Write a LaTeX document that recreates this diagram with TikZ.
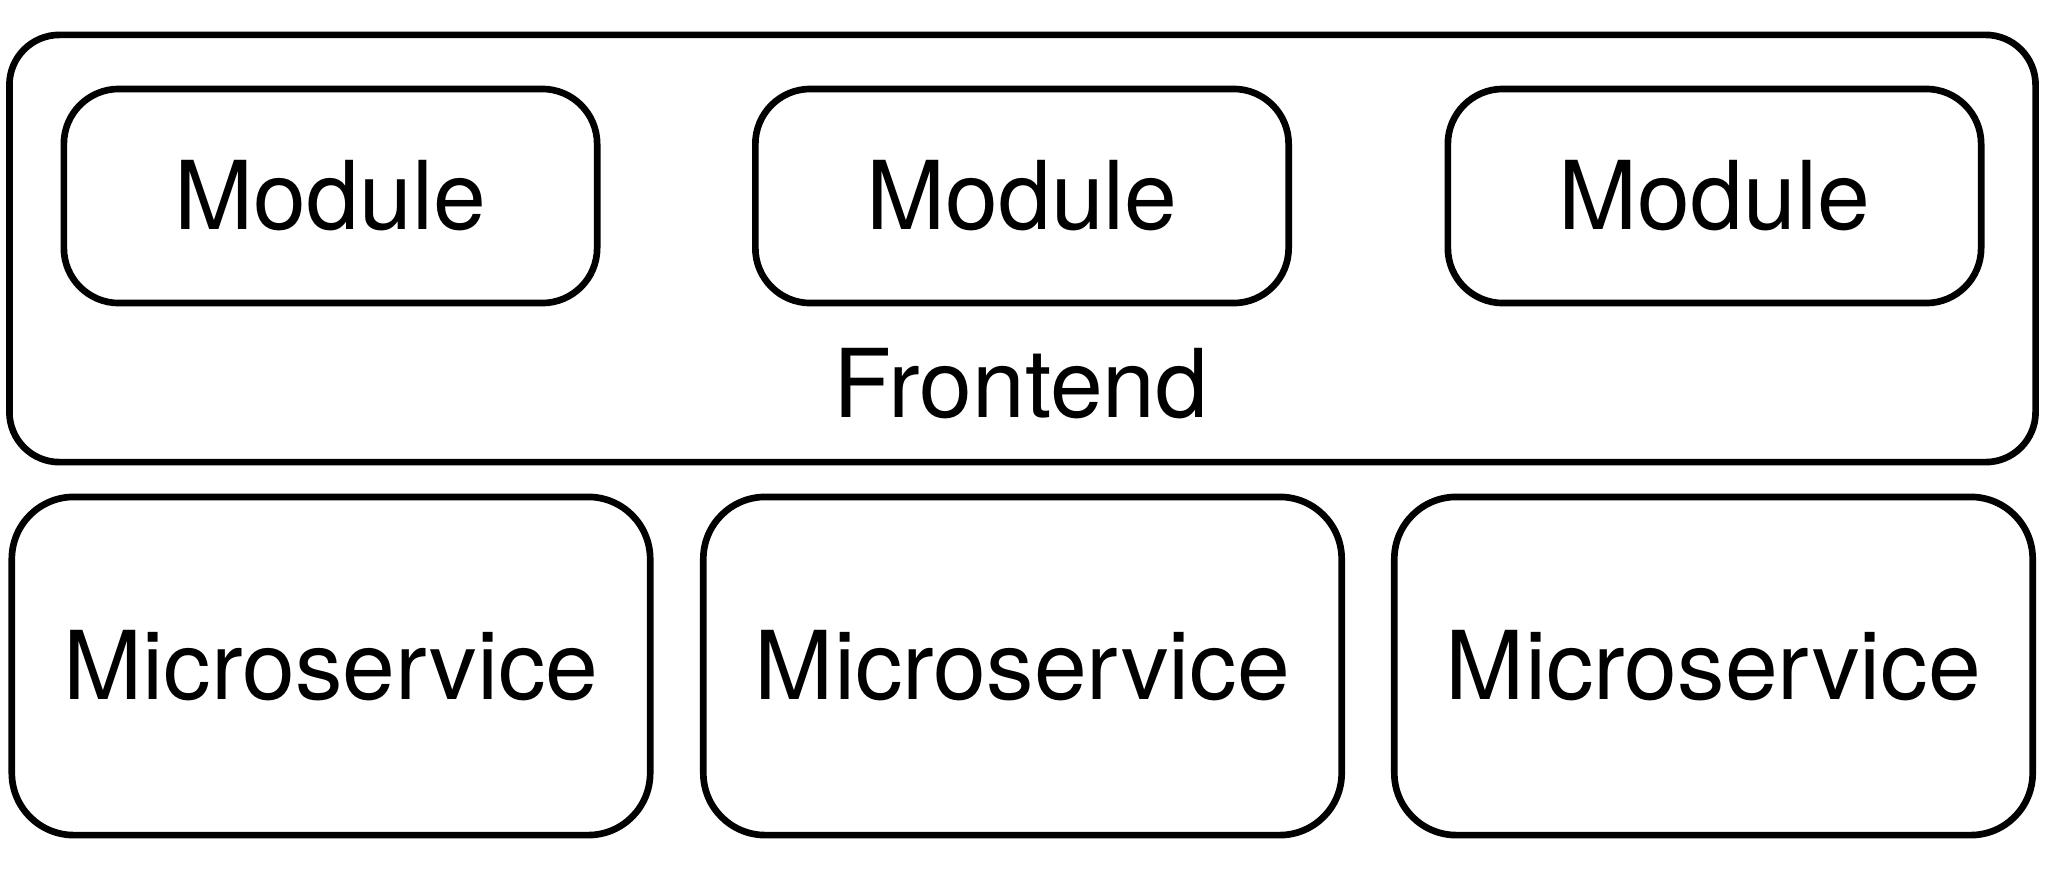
\documentclass[tikz,border=0pt]{standalone}
\usepackage{fontspec}
\setmainfont{TeX Gyre Heros}
\usetikzlibrary{positioning}

\tikzset{
  box/.style={draw,line width=1.9pt,rounded corners=#1,inner sep=0pt},
  modbox/.style={box=0.55cm,minimum width=5.33cm,minimum height=2.14cm},
  svcbox/.style={box=0.62cm,minimum width=6.38cm,minimum height=3.38cm},
  big/.style={font=\fontsize{27}{32}\selectfont}
}

\begin{document}
\begin{tikzpicture}[x=0.01cm,y=-0.01cm]
\useasboundingbox (0,0) rectangle (2045,875);
\node[box=0.5cm,minimum width=20.25cm,minimum height=4.27cm] (front) at (1022.5,248.5) {};
\node[modbox,big] (mod1) at (330.5,196) {Module};
\node[modbox,big] (mod2) at (1022,196) {Module};
\node[modbox,big] (mod3) at (1714.5,196) {Module};
\node[big,anchor=base] (frontlbl) at (1021,417) {Frontend};
\node[svcbox,big] (svc1) at (331,666) {Microservice};
\node[svcbox,big] (svc2) at (1022.5,666) {Microservice};
\node[svcbox,big] (svc3) at (1713.5,666) {Microservice};
\end{tikzpicture}
\end{document}
